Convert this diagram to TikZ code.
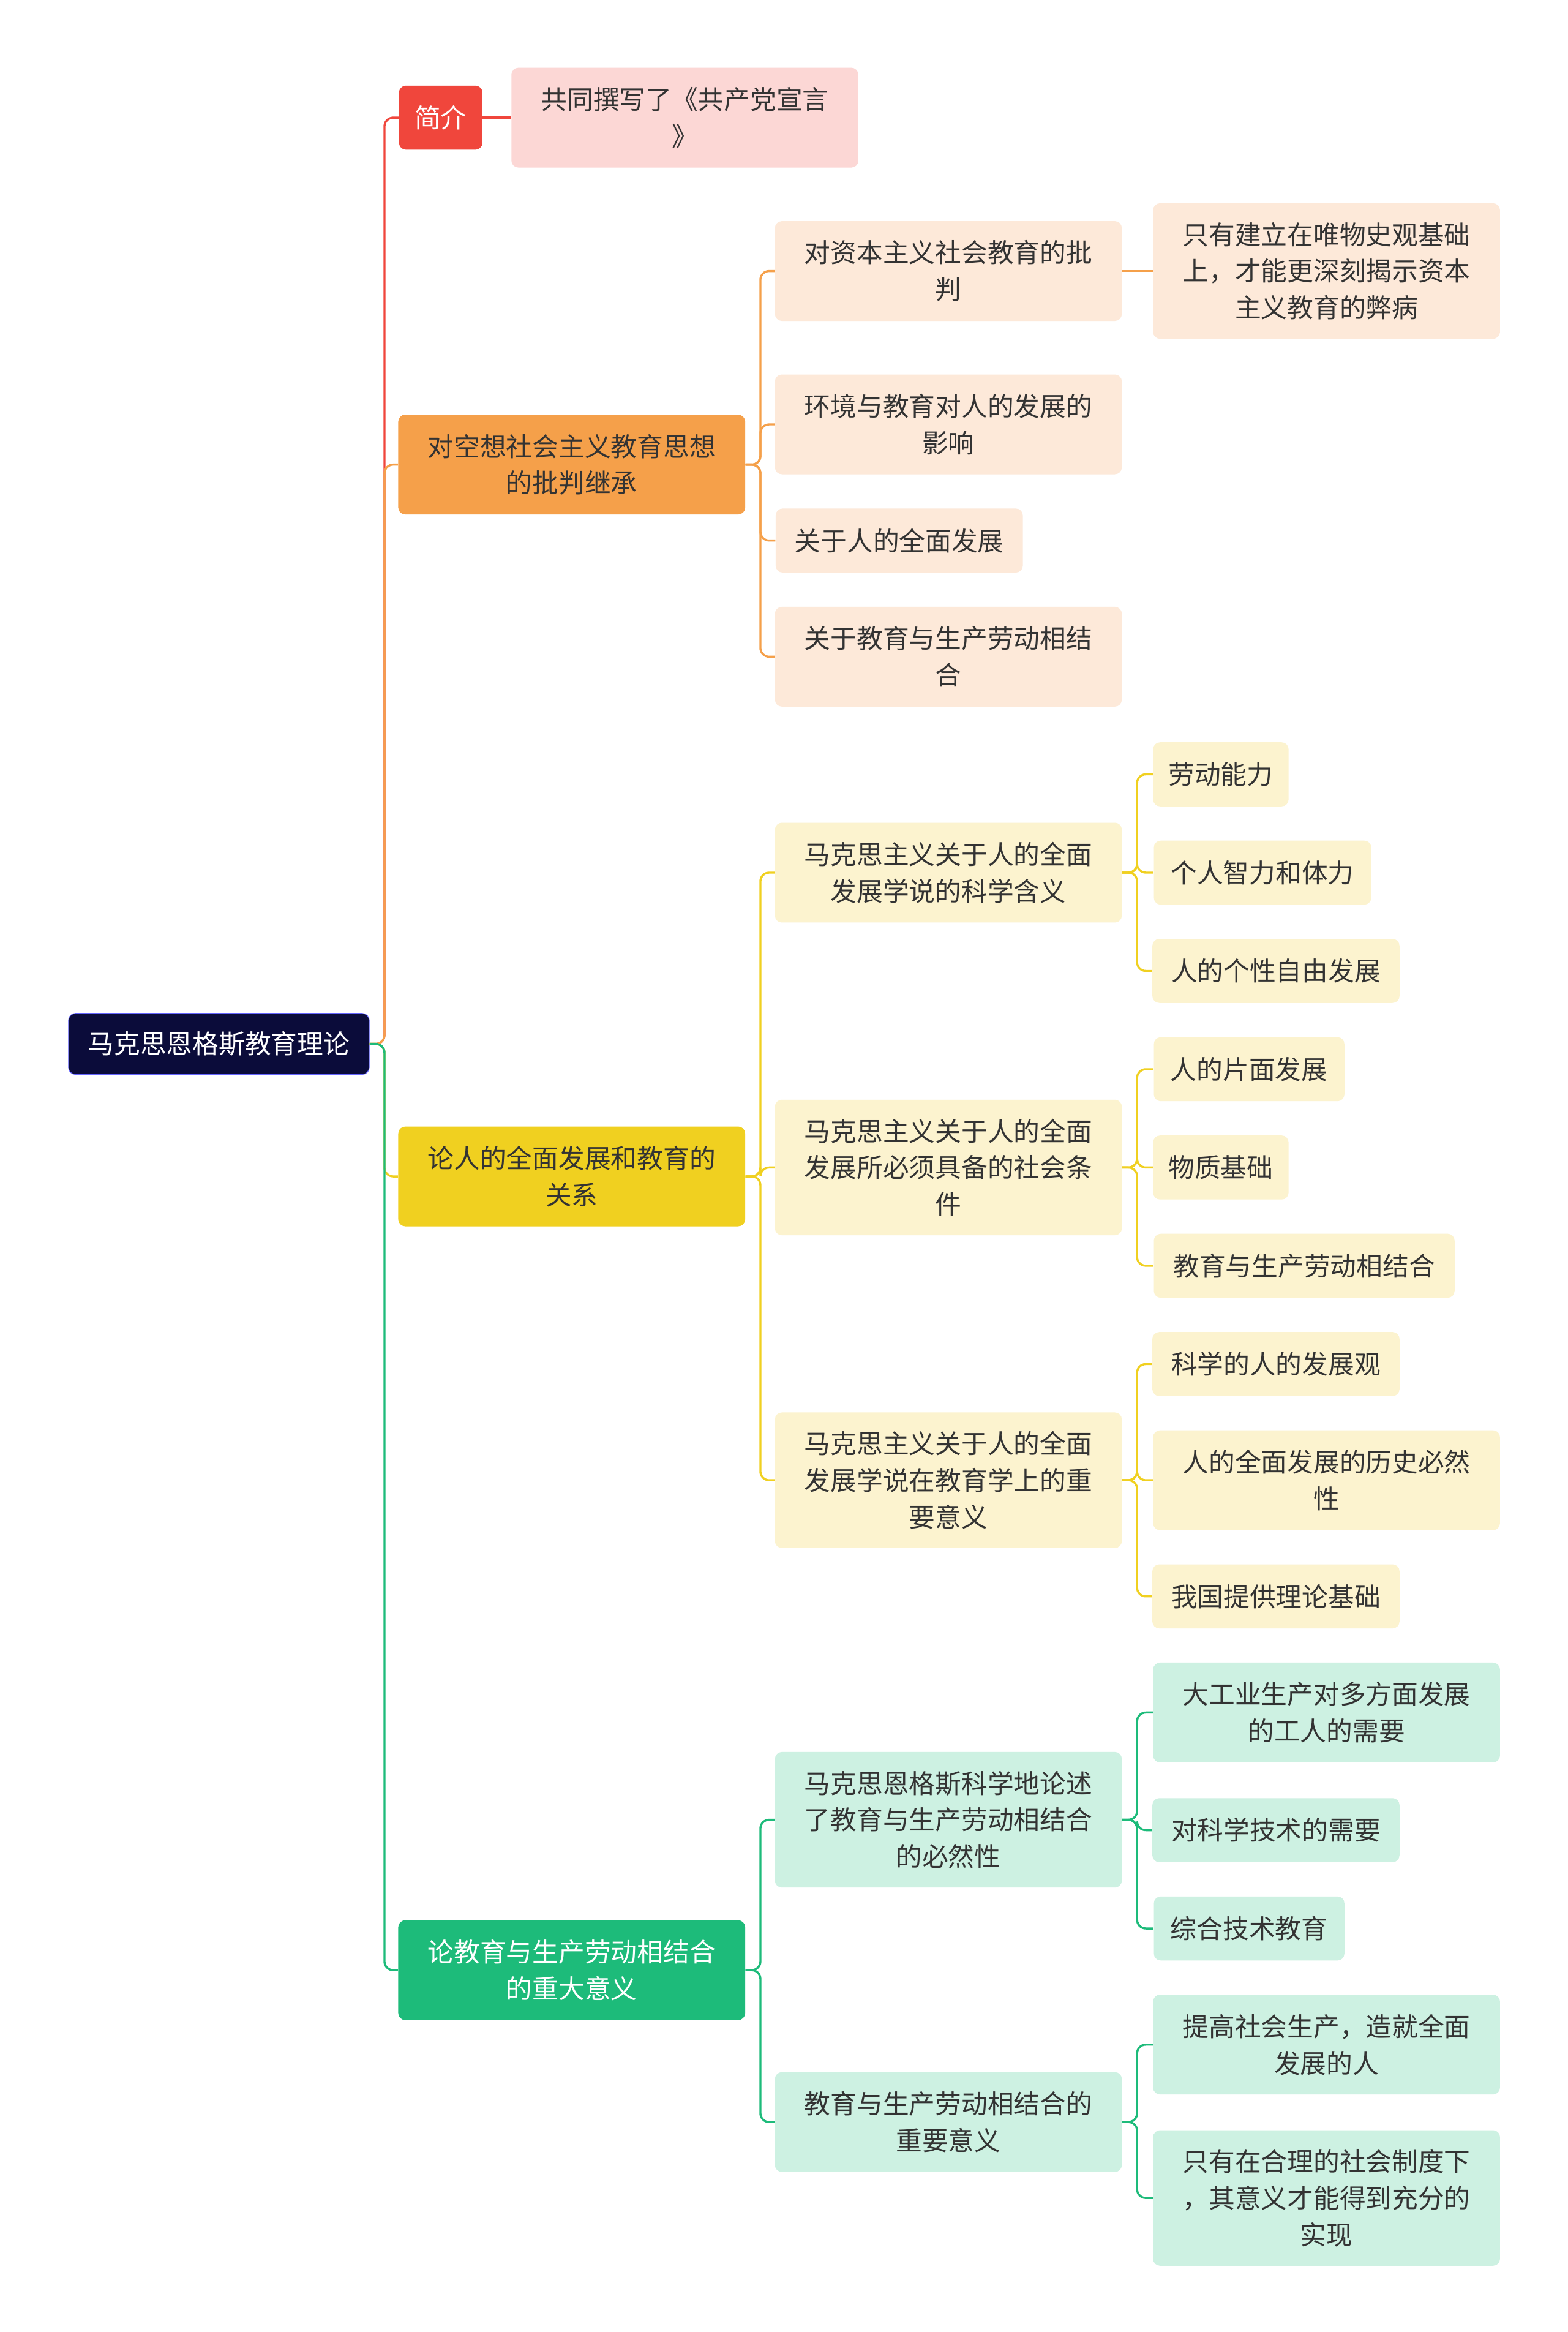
\documentclass[tikz,border=0pt]{standalone}
\usepackage{fontspec}
\setmainfont{Noto Sans CJK SC}
\usepackage{tikz}
\usetikzlibrary{arrows.meta, positioning}
\definecolor{navy}{HTML}{0B0C3A}
\definecolor{cred}{HTML}{F0463C}
\definecolor{corange}{HTML}{F5A04A}
\definecolor{cyellow}{HTML}{F0D020}
\definecolor{cgreen}{HTML}{1DBB7A}
\definecolor{lpink}{HTML}{FCD7D5}
\definecolor{lorange}{HTML}{FDE9D9}
\definecolor{lyellow}{HTML}{FCF3CF}
\definecolor{lgreen}{HTML}{CDF1E2}
\definecolor{ink}{HTML}{333333}

\begin{document}
\begin{tikzpicture}[x=0.03cm, y=-0.03cm,
    box/.style={rectangle, rounded corners=4pt, align=center, inner sep=0pt, font=\fontsize{15}{21}\selectfont, text=ink},
    wA/.style={minimum width=6.99cm}, wB/.style={minimum width=4.98cm}, wC/.style={minimum width=4.38cm},
    hA/.style={minimum height=1.29cm}, hB/.style={minimum height=2.01cm}, hC/.style={minimum height=2.73cm},
    link/.style={line width=1.2pt, rounded corners=5pt}
]
\useasboundingbox[fill=white] (0,0) rectangle (1053,1566);

% Nodes
\node[box, fill=navy, draw=blue!60, text=white, minimum width=6.06cm, minimum height=1.23cm] (root) at (147,701) {马克思恩格斯教育理论};

\node[box, fill=cred, text=white, minimum width=1.68cm, hA] (intro) at (296,79) {简介};
\node[box, fill=lpink, wA, hB] (manifest) at (460,79) {共同撰写了《共产党宣言\\》};

\node[box, fill=corange, wA, hB] (utopia) at (384,312) {对空想社会主义教育思想\\的批判继承};
\node[box, fill=lorange, wA, hB] (critique) at (637,182) {对资本主义社会教育的批\\判};
\node[box, fill=lorange, wA, hC] (basis) at (891,182) {只有建立在唯物史观基础\\上，才能更深刻揭示资本\\主义教育的弊病};
\node[box, fill=lorange, wA, hB] (environ) at (637,285) {环境与教育对人的发展的\\影响};
\node[box, fill=lorange, wB, hA] (allround) at (604,363) {关于人的全面发展};
\node[box, fill=lorange, wA, hB] (combine) at (637,441) {关于教育与生产劳动相结\\合};

\node[box, fill=cyellow, wA, hB] (relation) at (384,790) {论人的全面发展和教育的\\关系};
\node[box, fill=lyellow, wA, hB] (meaning) at (637,586) {马克思主义关于人的全面\\发展学说的科学含义};
\node[box, fill=lyellow, minimum width=2.73cm, hA] (labour) at (820,520) {劳动能力};
\node[box, fill=lyellow, minimum width=4.38cm, hA] (mind) at (848,586) {个人智力和体力};
\node[box, fill=lyellow, wB, hA] (free) at (857,652) {人的个性自由发展};
\node[box, fill=lyellow, wA, hC] (condition) at (637,784) {马克思主义关于人的全面\\发展所必须具备的社会条\\件};
\node[box, fill=lyellow, minimum width=3.84cm, hA] (onesided) at (839,718) {人的片面发展};
\node[box, fill=lyellow, minimum width=2.73cm, hA] (material) at (820,784) {物质基础};
\node[box, fill=lyellow, minimum width=6.06cm, hA] (eduwork) at (876,850) {教育与生产劳动相结合};
\node[box, fill=lyellow, wA, hC] (signif) at (637,994) {马克思主义关于人的全面\\发展学说在教育学上的重\\要意义};
\node[box, fill=lyellow, wB, hA] (science) at (857,916) {科学的人的发展观};
\node[box, fill=lyellow, wA, hB] (history) at (891,994) {人的全面发展的历史必然\\性};
\node[box, fill=lyellow, wB, hA] (theory) at (857,1072) {我国提供理论基础};

\node[box, fill=cgreen, text=white, wA, hB] (great) at (384,1323) {论教育与生产劳动相结合\\的重大意义};
\node[box, fill=lgreen, wA, hC] (necess) at (637,1222) {马克思恩格斯科学地论述\\了教育与生产劳动相结合\\的必然性};
\node[box, fill=lgreen, wA, hB] (industry) at (891,1150) {大工业生产对多方面发展\\的工人的需要};
\node[box, fill=lgreen, wB, hA] (tech) at (857,1229) {对科学技术的需要};
\node[box, fill=lgreen, minimum width=3.84cm, hA] (poly) at (839,1295) {综合技术教育};
\node[box, fill=lgreen, wA, hB] (import) at (637,1425) {教育与生产劳动相结合的\\重要意义};
\node[box, fill=lgreen, wA, hB] (raise) at (891,1373) {提高社会生产，造就全面\\发展的人};
\node[box, fill=lgreen, wA, hC] (society) at (891,1476) {只有在合理的社会制度下\\，其意义才能得到充分的\\实现};

% Connectors
\draw[link, cred] (root.east) -- ++(10,0) |- (intro.west);
\draw[link, corange] (root.east) -- ++(10,0) |- (utopia.west);
\draw[link, cyellow] (root.east) -- ++(10,0) |- (relation.west);
\draw[link, cgreen] (root.east) -- ++(10,0) |- (great.west);

\draw[link, cred] (intro) -- (manifest);

\foreach \c in {critique, environ, allround, combine}
  \draw[link, corange] (utopia.east) -- ++(10,0) |- (\c.west);
\draw[link, corange] (critique) -- (basis);

\foreach \c in {meaning, condition, signif}
  \draw[link, cyellow] (relation.east) -- ++(10,0) |- (\c.west);
\foreach \c in {labour, mind, free}
  \draw[link, cyellow] (meaning.east) -- ++(10,0) |- (\c.west);
\foreach \c in {onesided, material, eduwork}
  \draw[link, cyellow] (condition.east) -- ++(10,0) |- (\c.west);
\foreach \c in {science, history, theory}
  \draw[link, cyellow] (signif.east) -- ++(10,0) |- (\c.west);

\foreach \c in {necess, import}
  \draw[link, cgreen] (great.east) -- ++(10,0) |- (\c.west);
\foreach \c in {industry, tech, poly}
  \draw[link, cgreen] (necess.east) -- ++(10,0) |- (\c.west);
\foreach \c in {raise, society}
  \draw[link, cgreen] (import.east) -- ++(10,0) |- (\c.west);

\end{tikzpicture}
\end{document}
